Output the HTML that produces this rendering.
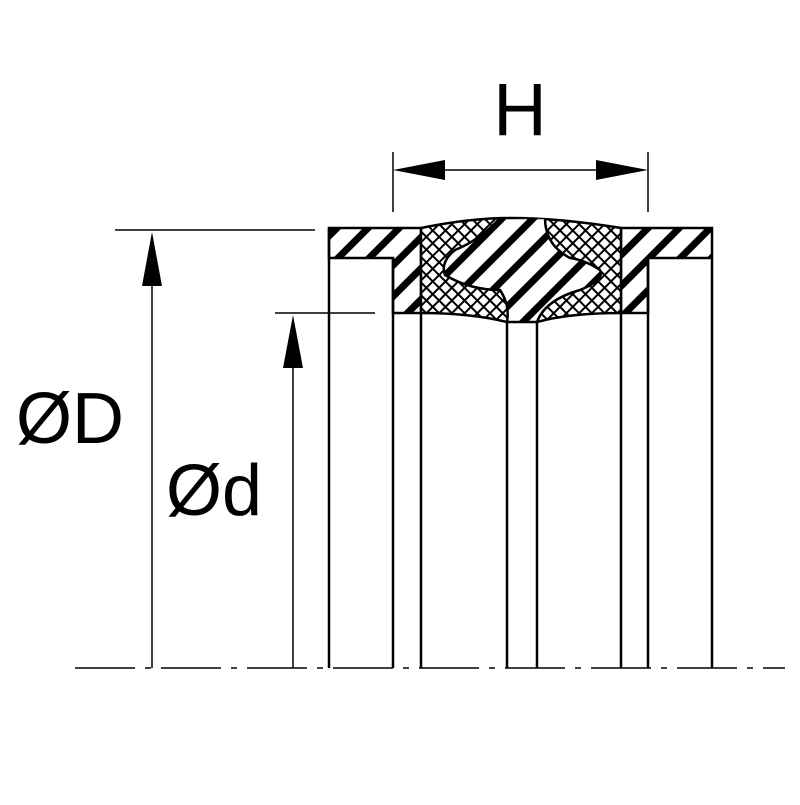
<!DOCTYPE html>
<html><head><style>body{margin:0;background:#fff}</style></head><body>
<svg width="800" height="800" xmlns="http://www.w3.org/2000/svg">
<defs>
<pattern id="st" patternUnits="userSpaceOnUse" width="22" height="22" patternTransform="rotate(45)">
<rect width="22" height="22" fill="#fff"/><rect x="0" y="0" width="7" height="22" fill="#000"/>
</pattern>
<pattern id="cx" patternUnits="userSpaceOnUse" width="9" height="9" patternTransform="rotate(45)">
<rect width="9" height="9" fill="#fff"/><rect x="0" y="0" width="2" height="9" fill="#000"/><rect x="0" y="0" width="9" height="2" fill="#000"/>
</pattern>
<clipPath id="cc"><path d="M421,228 Q470,218 510,218 Q560,218 621,228 L621,313 Q570,313 537,322 L507,322 Q470,313 421,313 Z"/></clipPath>
</defs>
<g stroke="#000" stroke-width="2.5" fill="none">
<path d="M329,228 L421,228 L421,313 L393,313 L393,258 L329,258 Z" fill="url(#st)"/>
<path d="M621,228 L712,228 L712,258 L648,258 L648,313 L621,313 Z" fill="url(#st)"/>
<path d="M421,228 Q470,218 510,218 Q560,218 621,228 L621,313 Q570,313 537,322 L507,322 Q470,313 421,313 Z" fill="url(#cx)"/>
<path clip-path="url(#cc)" d="M500,218 Q480,240 455,250 Q440,262 445,275 Q470,290 500,290 Q510,305 507,322 L537,322 Q545,300 580,290 Q605,280 600,270 Q585,260 570,258 Q545,245 545,218 Z" fill="url(#st)"/>
<path d="M329,228 V668 M393,258 V668 M421,313 V668 M507,322 V668 M537,322 V668 M621,313 V668 M648,258 V668 M712,258 V668"/>
<path d="M393,152 V212 M648,152 V212 M430,170 H610" stroke-width="1.5"/>
<path d="M115,230 H315 M275,313 H375 M152,280 V668 M293,365 V668" stroke-width="1.5"/>
<path d="M75,668 H785" stroke-width="1.5" stroke-dasharray="60,10,6,10"/>
</g>
<g fill="#000">
<polygon points="393,170 445,160 445,180"/>
<polygon points="648,170 596,160 596,180"/>
<polygon points="152,232 142,286 162,286"/>
<polygon points="293,315 283,368 303,368"/>
</g>
<text x="520" y="135" font-family="Liberation Sans, sans-serif" font-size="74" text-anchor="middle">H</text>
<text x="16" y="443" font-family="Liberation Sans, sans-serif" font-size="72">ØD</text>
<text x="166" y="515" font-family="Liberation Sans, sans-serif" font-size="72">Ød</text>
</svg>
</body></html>
